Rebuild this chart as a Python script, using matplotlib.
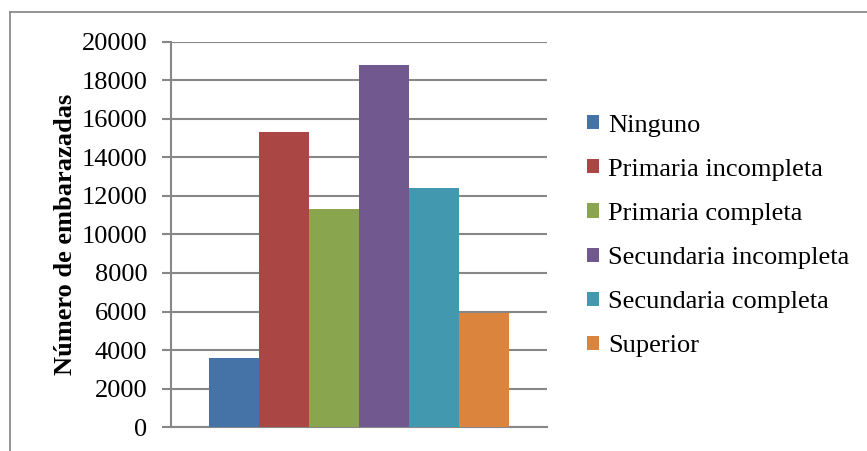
import numpy as np
import matplotlib
matplotlib.use("Agg")
import matplotlib.pyplot as plt
from matplotlib.lines import Line2D

# Data
niveles = ["Ninguno", "Primaria incompleta", "Primaria completa",
           "Secundaria incompleta", "Secundaria completa", "Superior"]
embarazadas = [3600, 15300, 11300, 18800, 12400, 5900]
colores = ["#4572A7", "#AA4643", "#89A54E", "#71588F", "#4198AF", "#DB843D"]
yticks = np.arange(0, 20001, 2000)

plt.rcParams['font.family'] = ['Liberation Serif', 'DejaVu Serif']

fig = plt.figure(figsize=(8.67, 4.51), dpi=100)
ax = fig.add_axes([0.1978, 0.0532, 0.4333, 0.8537])

grid_col = "#878787"
w = 0.133
n = len(niveles)
for i, (nom, val, col) in enumerate(zip(niveles, embarazadas, colores)):
    ax.bar((i - (n - 1) / 2) * w, val, width=w, color=col, label=nom, zorder=3)

ax.set_xlim(-0.5, 0.5)
ax.set_ylim(0, 20000)
ax.set_yticks(yticks)
ax.set_yticklabels([str(t) for t in yticks], fontsize=19)
ax.set_xticks([])
ax.yaxis.grid(True, color=grid_col, linewidth=1.5, zorder=0)
ax.tick_params(axis='y', length=6.5, width=1.5, color=grid_col, pad=11)

for s in ["top", "right"]:
    ax.spines[s].set_visible(False)
ax.spines["left"].set_color(grid_col)
ax.spines["left"].set_linewidth(1.5)
ax.spines["bottom"].set_color(grid_col)
ax.spines["bottom"].set_linewidth(1.5)

ax.set_ylabel("Número de embarazadas", fontsize=19, fontweight="bold", labelpad=3)

leg = ax.legend(loc="center left", bbox_to_anchor=(587 / 867, 1 - 236 / 451),
                bbox_transform=fig.transFigure, frameon=False, fontsize=19,
                handlelength=0.45, handleheight=0.45, handletextpad=0.35,
                labelspacing=0.84, borderpad=0, borderaxespad=0)

# Outer chart border (only left and top edges visible in the crop)
fig.add_artist(Line2D([10 / 867, 10 / 867], [0, 1 - 12 / 451],
                      transform=fig.transFigure, color="#8a8a8a", linewidth=1.3))
fig.add_artist(Line2D([10 / 867, 1], [1 - 12 / 451, 1 - 12 / 451],
                      transform=fig.transFigure, color="#8a8a8a", linewidth=1.3))

fig.savefig("out.png", dpi=100)
